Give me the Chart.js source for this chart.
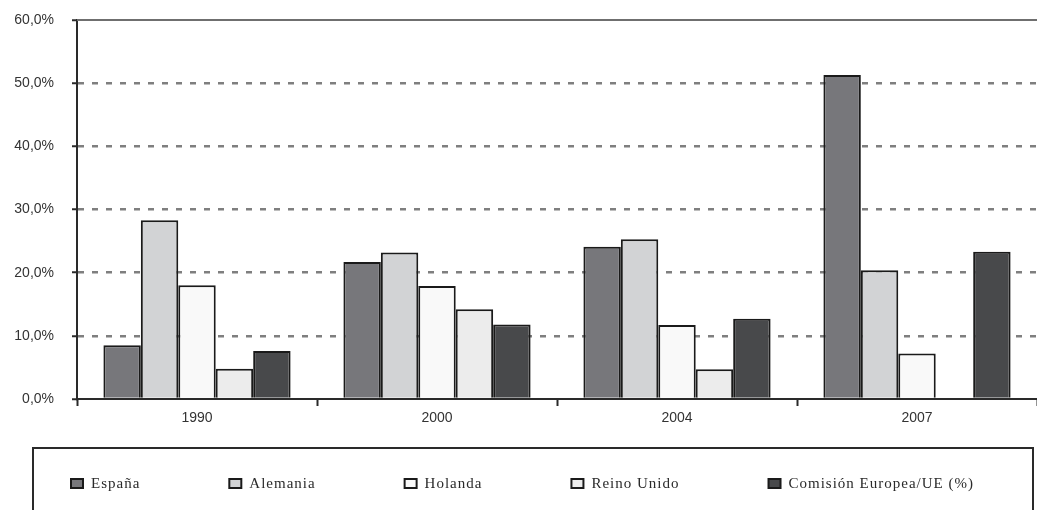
<!DOCTYPE html>
<html lang="es">
<head>
    <meta charset="UTF-8">
    <title>Comparativa</title>
    <script src="https://cdn.jsdelivr.net/npm/chart.js"></script>
    <style>
        html, body { margin: 0; padding: 0; background: #fff; }
        #wrap { width: 1037px; height: 510px; position: relative; }
    </style>
</head>
<body>
    <div id="wrap"><canvas id="grafico"></canvas></div>

    <script>
        // datos
        var years = ['1990', '2000', '2004', '2007'];
        var espana = [8.5, 21.7, 24.1, 51.3];
        var alemania = [28.3, 23.2, 25.3, 20.4];
        var holanda = [18.0, 17.9, 11.7, 7.2];
        var reinoUnido = [4.8, 14.2, 4.7, null];
        var comision = [7.6, 11.8, 12.7, 23.3];
        var yTicks = [0, 10, 20, 30, 40, 50, 60];

        var seriesNames = ['España', 'Alemania', 'Holanda', 'Reino Unido', 'Comisión Europea/UE (%)'];
        var seriesColors = ['#77777b', '#d2d3d5', '#f9f9f9', '#ececec', '#48494b'];
        var seriesData = [espana, alemania, holanda, reinoUnido, comision];

        function fmt(v) {
            return v.toFixed(1).replace('.', ',') + '%';
        }

        // leyenda dibujada dentro de un recuadro
        var boxLegend = {
            id: 'boxLegend',
            afterDraw: function(chart) {
                var ctx = chart.ctx;
                ctx.save();
                ctx.strokeStyle = '#2a2a2a';
                ctx.lineWidth = 2;
                ctx.strokeRect(33, 448, 1000, 90);
                ctx.font = '15px "Liberation Serif", "DejaVu Serif", serif';
                ctx.letterSpacing = '1px';
                ctx.textBaseline = 'middle';
                var x = 71, y = 484;
                chart.data.datasets.forEach(function(ds) {
                    ctx.fillStyle = ds.backgroundColor;
                    ctx.fillRect(x, y - 5, 12, 9);
                    ctx.strokeStyle = '#1a1a1a';
                    ctx.lineWidth = 2;
                    ctx.strokeRect(x, y - 5, 12, 9);
                    ctx.fillStyle = '#2a2a2a';
                    ctx.fillText(ds.label, x + 20, y);
                    x += 20 + ctx.measureText(ds.label).width + 89;
                });
                ctx.restore();
            }
        };

        // linea superior continua en 60%
        var topLine = {
            id: 'topLine',
            afterDatasetsDraw: function(chart) {
                var ctx = chart.ctx;
                var yPix = chart.scales.y.getPixelForValue(60);
                ctx.save();
                ctx.strokeStyle = '#6f6f6f';
                ctx.lineWidth = 2;
                ctx.beginPath();
                ctx.moveTo(chart.chartArea.left, yPix);
                ctx.lineTo(chart.width, yPix);
                ctx.stroke();
                ctx.restore();
            }
        };

        var ctx = document.getElementById('grafico').getContext('2d');
        var chart = new Chart(ctx, {
            type: 'bar',
            data: {
                labels: years,
                datasets: seriesNames.map(function(name, i) {
                    return {
                        label: name,
                        data: seriesData[i],
                        backgroundColor: seriesColors[i],
                        borderColor: '#1a1a1a',
                        borderWidth: 2,
                        categoryPercentage: 0.78,
                        barPercentage: 1.0
                    };
                })
            },
            options: {
                responsive: true,
                maintainAspectRatio: false,
                animation: false,
                layout: { padding: { top: 20, right: 0, left: 0, bottom: 0 } },
                plugins: {
                    legend: { display: false },
                    tooltip: { enabled: false }
                },
                scales: {
                    x: {
                        afterFit: function(scale) { scale.height = 111; },
                        grid: {
                            offset: true,
                            drawOnChartArea: false,
                            drawTicks: true,
                            tickLength: 7,
                            tickColor: '#2a2a2a',
                            tickWidth: 2
                        },
                        border: { display: true, color: '#2a2a2a', width: 2 },
                        ticks: {
                            color: '#333',
                            padding: 4,
                            font: { family: '"Liberation Sans", Arial, sans-serif', size: 14 }
                        }
                    },
                    y: {
                        min: 0,
                        max: 60,
                        afterFit: function(scale) {
                            scale.width = 77;
                            scale.paddingTop = 0;
                            scale.paddingBottom = 0;
                        },
                        afterBuildTicks: function(scale) {
                            scale.ticks = yTicks.map(function(v) { return { value: v }; });
                        },
                        grid: {
                            color: function(c) {
                                return (c.tick && (c.tick.value === 0 || c.tick.value === 60)) ? 'rgba(0,0,0,0)' : '#7f7f7f';
                            },
                            lineWidth: 2.5,
                            drawTicks: true,
                            tickLength: 5,
                            tickColor: '#2a2a2a',
                            tickWidth: 2
                        },
                        border: { display: true, color: '#2a2a2a', width: 2, dash: [6, 8] },
                        ticks: {
                            color: '#333',
                            padding: 18,
                            font: { family: '"Liberation Sans", Arial, sans-serif', size: 14 },
                            callback: function(v) { return fmt(v); }
                        }
                    }
                }
            },
            plugins: [boxLegend, topLine]
        });
    </script>
</body>
</html>
